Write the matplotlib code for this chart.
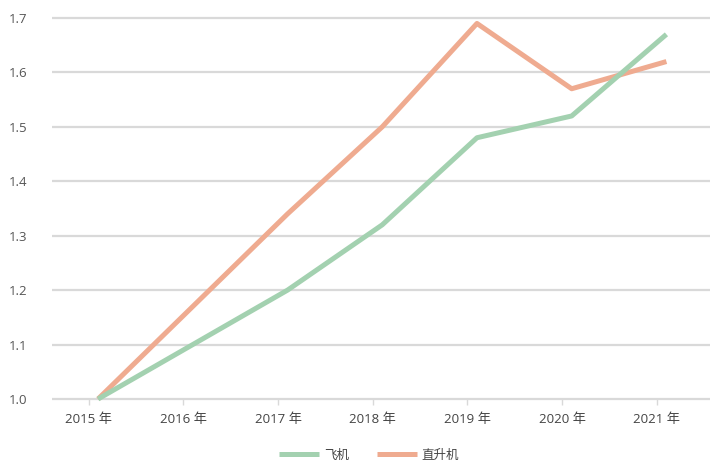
import numpy as np
import matplotlib
matplotlib.use('Agg')
import matplotlib.pyplot as plt

plt.rcParams['font.family'] = ['Open Sans', 'Noto Sans CJK SC', 'DejaVu Sans']

years = ['2015 年', '2016 年', '2017 年', '2018 年', '2019 年', '2020 年', '2021 年']
plane = [1.00, 1.10, 1.20, 1.32, 1.48, 1.52, 1.67]
heli = [1.00, 1.17, 1.34, 1.50, 1.69, 1.57, 1.62]
yticks = [1.0, 1.1, 1.2, 1.3, 1.4, 1.5, 1.6, 1.7]

GREEN = '#a3d1b0'
ORANGE = '#efab90'

fig = plt.figure(figsize=(7.1, 4.73), dpi=100)
ax = fig.add_axes([52 / 710, 68 / 473, 658 / 710, 395 / 473])

x = np.arange(len(years))

# grid lines
for v in yticks:
    ax.axhline(v, color='#d9d9d9', lw=1.6, zorder=1)

ax.plot(x, plane, color=GREEN, lw=3.6, solid_capstyle='butt', label='飞机', zorder=3, clip_on=False)
ax.plot(x, heli, color=ORANGE, lw=3.6, solid_capstyle='butt', label='直升机', zorder=2, clip_on=False)

ax.set_xlim(-0.486, 6.46)
ax.set_ylim(1.0 - 6 / 544, 1.7 + 8 / 544)

ax.set_yticks(yticks)
ax.set_yticklabels([f'{v:.1f}' for v in yticks], fontsize=9.5, color='#555555')
ax.tick_params(axis='y', length=0, pad=18)

ax.set_xticks(x - 0.1)
ax.set_xticklabels(years, fontsize=9.5, color='#444444')
ax.tick_params(axis='x', length=5, width=1, color='#d9d9d9', pad=6, direction='in')

for s in ax.spines.values():
    s.set_visible(False)

fig.legend(loc='lower center', bbox_to_anchor=(0.52, 0.0), ncol=2, frameon=False,
           fontsize=9, handlelength=3.2, columnspacing=2.2, handletextpad=0.4,
           labelcolor='#444444')

fig.savefig('out.png', dpi=100)
